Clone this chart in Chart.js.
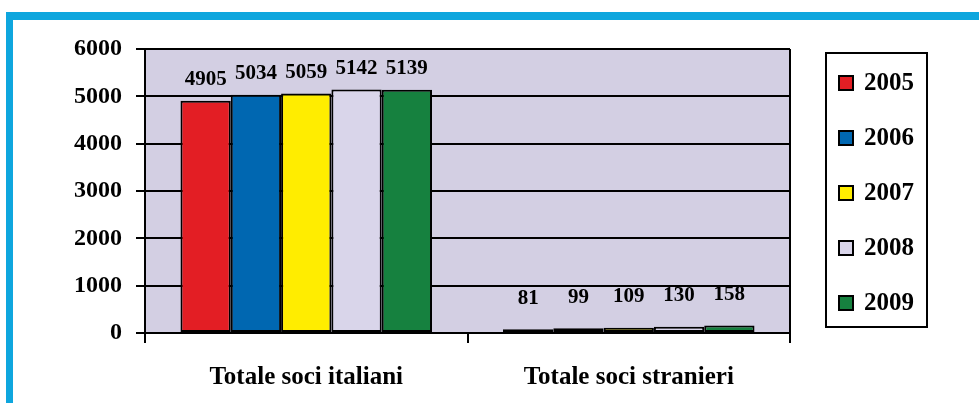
<!DOCTYPE html>
<html>
<head>
<meta charset="utf-8">
<script src="https://cdn.jsdelivr.net/npm/chart.js@4"></script>
<style>
  body { margin: 0; background: #fff; }
  #frame {
    position: absolute; left: 6px; top: 12px; width: 1000px; height: 400px;
    border-top: 8px solid #0ea6de; border-left: 7px solid #0ea6de;
  }
  #chart-container { position: absolute; left: 0; top: 0; width: 979px; height: 403px; }
</style>
</head>
<body>
<div id="frame"></div>
<div id="chart-container"><canvas id="canvas-results" width="979" height="403"></canvas></div>
<script>
let categories = ["Totale soci italiani", "Totale soci stranieri"];
let years = ["2005", "2006", "2007", "2008", "2009"];
let values2005 = [4905, 81];
let values2006 = [5034, 99];
let values2007 = [5059, 109];
let values2008 = [5142, 130];
let values2009 = [5139, 158];
let yearColors = ["#e31e24", "#0067b1", "#ffed00", "#d9d5ea", "#16813f"];

let serif = "'Liberation Serif', 'Times New Roman', serif";

function makeCanvas() {

    let allValues = [values2005, values2006, values2007, values2008, values2009];
    let datasets = years.map((year, i) => ({
        label: year,
        data: allValues[i],
        backgroundColor: yearColors[i],
        borderColor: "#000",
        borderWidth: 2,
        borderSkipped: false,
        categoryPercentage: 0.78,
        barPercentage: 1
    }));

    // lavender plot background with a right border
    let plotBackground = {
        id: "plotBackground",
        beforeDraw(chart) {
            let { ctx, chartArea: a } = chart;
            ctx.save();
            ctx.fillStyle = "#d3cfe3";
            ctx.fillRect(a.left, a.top, a.right - a.left, a.bottom - a.top);
            ctx.strokeStyle = "#000";
            ctx.lineWidth = 2;
            ctx.beginPath();
            ctx.moveTo(a.right, a.top);
            ctx.lineTo(a.right, a.bottom + 10);
            ctx.stroke();
            ctx.restore();
        }
    };

    // numbers above the bars
    let barLabels = {
        id: "barLabels",
        afterDatasetsDraw(chart) {
            let { ctx, chartArea: a } = chart;
            ctx.save();
            ctx.font = "bold 21px " + serif;
            ctx.fillStyle = "#000";
            ctx.textAlign = "center";
            ctx.textBaseline = "middle";
            chart.data.datasets.forEach((ds, i) => {
                chart.getDatasetMeta(i).data.forEach((bar, j) => {
                    let off = bar.y > a.bottom - 30 ? 31 : 21;
                    ctx.fillText(ds.data[j], bar.x, bar.y - off);
                });
            });
            ctx.restore();
        }
    };

    // boxed legend on the right
    let boxLegend = {
        id: "boxLegend",
        afterDraw(chart) {
            let ctx = chart.ctx;
            ctx.save();
            ctx.strokeStyle = "#000";
            ctx.lineWidth = 2;
            ctx.strokeRect(826, 53, 101, 274);
            ctx.font = "bold 25px " + serif;
            ctx.textBaseline = "middle";
            chart.data.datasets.forEach((ds, i) => {
                let y = 83 + i * 55;
                ctx.fillStyle = ds.backgroundColor;
                ctx.fillRect(839, y - 7, 14, 14);
                ctx.strokeRect(839, y - 7, 14, 14);
                ctx.fillStyle = "#000";
                ctx.fillText(ds.label, 864, y + 1);
            });
            ctx.restore();
        }
    };

    let designCanvas = document.getElementById("canvas-results").getContext("2d");
    new Chart(designCanvas, {
        type: "bar",
        data: {
            labels: categories,
            datasets: datasets
        },
        options: {
            responsive: false,
            animation: false,
            layout: { padding: { left: 0, top: 49, right: 189, bottom: 0 } },
            plugins: {
                legend: { display: false },
                tooltip: { enabled: false }
            },
            scales: {
                x: {
                    afterFit: (s) => { s.height = 70; },
                    grid: {
                        offset: true,
                        drawOnChartArea: false,
                        color: "#000",
                        lineWidth: 2,
                        tickLength: 10
                    },
                    border: { color: "#000", width: 2 },
                    ticks: {
                        color: "#000",
                        padding: 20,
                        font: { family: serif, size: 25, weight: "bold" }
                    }
                },
                y: {
                    min: 0,
                    max: 6000,
                    afterFit: (s) => { s.width = 145; },
                    grid: {
                        color: "#000",
                        lineWidth: 2,
                        tickLength: 9
                    },
                    border: { color: "#000", width: 2 },
                    ticks: {
                        stepSize: 1000,
                        color: "#000",
                        padding: 14,
                        callback: (v) => String(v),
                        font: { family: serif, size: 24, weight: "bold" }
                    }
                }
            }
        },
        plugins: [plotBackground, barLabels, boxLegend]
    });
}
makeCanvas();
</script>
</body>
</html>
